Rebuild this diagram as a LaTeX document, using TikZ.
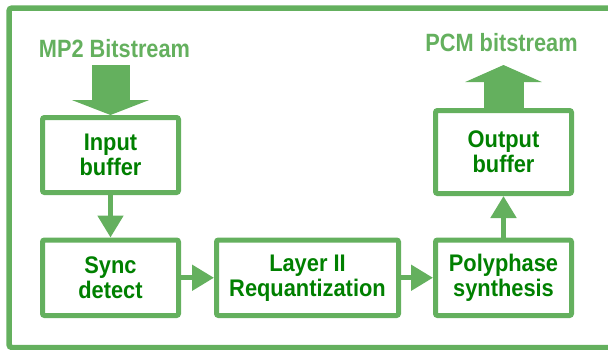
\documentclass[tikz,border=0pt]{standalone}
\usepackage{fontspec}
\setmainfont{Liberation Sans}
\newfontfamily\labfont[FakeStretch=0.87]{Liberation Sans}
\newfontfamily\boxfont[FakeStretch=0.91]{Liberation Sans}
\usetikzlibrary{arrows.meta}
\definecolor{lgreen}{RGB}{100,176,94}
\definecolor{dgreen}{RGB}{0,128,0}
\tikzset{
  stage/.style={draw=lgreen, line width=5pt, rounded corners=2pt, fill=white,
    inner sep=0pt, align=center, text=dgreen,
    font=\boxfont\bfseries\fontsize{24pt}{25pt}\selectfont},
  lab/.style={text=lgreen, inner sep=0pt, anchor=base,
    font=\labfont\bfseries\fontsize{25pt}{26pt}\selectfont},
  conn/.style={draw=lgreen, line width=5pt, -{Triangle[width=25pt,length=22pt]}},
  bigin/.style={draw=lgreen, line width=38pt, -{Triangle[width=77pt,length=15pt]}},
  bigout/.style={draw=lgreen, line width=40pt, -{Triangle[width=76pt,length=17pt]}},
}
\begin{document}
\begin{tikzpicture}[x=1pt,y=-1pt]
\useasboundingbox (0,0) rectangle (608,349);
\clip (0,0) rectangle (608,349);
\draw[lgreen, line width=5.5pt, rounded corners=3pt] (9,8) rectangle (640,347.5);
\node[stage, minimum width=136pt, minimum height=75pt] (inbuf) at (110.5,155) {Input\\buffer};
\node[stage, minimum width=136pt, minimum height=75.5pt] (sync) at (110.5,277.75) {Sync\\detect};
\node[stage, minimum width=182pt, minimum height=75.5pt] (layer) at (307.5,277.75) {Layer II\\Requantization};
\node[stage, minimum width=136pt, minimum height=75.5pt] (poly) at (503.5,277.75) {Polyphase\\synthesis};
\node[stage, minimum width=136pt, minimum height=83pt] (outbuf) at (503.5,152) {Output\\buffer};
\node[lab] (mp2) at (114.5,57) {MP2 Bitstream};
\node[lab] (pcm) at (501.5,51) {PCM bitstream};
\coordinate (instart) at (110.5,65);
\coordinate (outend) at (503.5,65);
\draw[bigin] (instart) -- (inbuf.north);
\draw[bigout] (outbuf.north) -- (outend);
\draw[conn] (inbuf) -- (sync);
\draw[conn] (sync) -- (layer);
\draw[conn] (layer) -- (poly);
\draw[conn] (poly) -- (outbuf);
\end{tikzpicture}
\end{document}
